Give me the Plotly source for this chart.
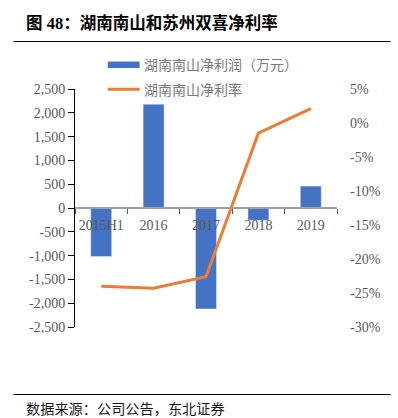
import plotly.graph_objects as go

categories = ["2015H1", "2016", "2017", "2018", "2019"]
profit = [-1020, 2180, -2120, -260, 460]          # 湖南南山净利润（万元）
margin = [-24.0, -24.3, -22.6, -1.5, 2.1]          # 湖南南山净利率 (%)
left_ticks = [-2500, -2000, -1500, -1000, -500, 0, 500, 1000, 1500, 2000, 2500]
left_labels = ["-2,500", "-2,000", "-1,500", "-1,000", "-500", "0",
               "500", "1,000", "1,500", "2,000", "2,500"]
right_ticks = [-30, -25, -20, -15, -10, -5, 0, 5]
right_labels = ["-30%", "-25%", "-20%", "-15%", "-10%", "-5%", "0%", "5%"]

title_text = "图 48：湖南南山和苏州双喜净利率"
source_text = "数据来源：公司公告，东北证券"
legend_names = ["湖南南山净利润（万元）", "湖南南山净利率"]

BLUE = "#4472C4"
ORANGE = "#ED7D31"
GRAY_TXT = "#595959"
LEG_TXT = "#7a7a7a"
SERIF = "Liberation Serif, Times New Roman, Noto Sans CJK SC, serif"
CJK = "Noto Sans CJK SC, sans-serif"

W, H = 398, 418
L, R, T, B = 74.7, 60.7, 89, 91

fig = go.Figure()
fig.add_trace(go.Bar(x=categories, y=profit, marker_color=BLUE, width=0.4,
                     name=legend_names[0], showlegend=False, yaxis="y"))
fig.add_trace(go.Scatter(x=categories, y=margin, mode="lines",
                         line=dict(color=ORANGE, width=3), name=legend_names[1],
                         showlegend=False, yaxis="y2"))

fig.update_layout(
    width=W, height=H,
    margin=dict(l=L, r=R, t=T, b=B, pad=0),
    paper_bgcolor="white", plot_bgcolor="white",
    showlegend=False,
    xaxis=dict(
        type="category", range=[-0.5, 4.5],
        anchor="free", position=0.5,
        showline=True, linecolor="#A0A0A0", linewidth=1.5,
        ticks="outside", ticklen=5, tickcolor="#595959", tickwidth=1,
        tickson="boundaries", tickangle=0, ticklabelstandoff=4,
        tickfont=dict(family=SERIF, size=14, color=GRAY_TXT),
        showgrid=False, zeroline=False, layer="above traces",
    ),
    yaxis=dict(
        range=[-2500, 2500], tickmode="array", tickvals=left_ticks, ticktext=left_labels,
        showline=True, linecolor="#000000", linewidth=1,
        ticks="outside", ticklen=6, tickcolor="#000000",
        tickfont=dict(family=SERIF, size=14, color=GRAY_TXT),
        showgrid=False, zeroline=False,
    ),
    yaxis2=dict(
        range=[-30, 5], tickmode="array", tickvals=right_ticks, ticktext=right_labels,
        overlaying="y", side="right",
        showline=False, ticks="", ticklabelstandoff=12,
        tickfont=dict(family=SERIF, size=14, color=GRAY_TXT),
        showgrid=False, zeroline=False,
    ),
)

def pxx(x):
    return (x - L) / (W - L - R)

def pxy(y):
    return (H - B - y) / (H - T - B)

shapes = [
    dict(type="line", xref="paper", yref="paper",
         x0=pxx(13), x1=pxx(391), y0=pxy(41.5), y1=pxy(41.5),
         line=dict(color="#000000", width=1.2)),
    dict(type="line", xref="paper", yref="paper",
         x0=pxx(13), x1=pxx(391), y0=pxy(394.5), y1=pxy(394.5),
         line=dict(color="#000000", width=1.2)),
    # legend symbols
    dict(type="rect", xref="paper", yref="paper",
         x0=pxx(107.5), x1=pxx(139.5), y0=pxy(68), y1=pxy(61.5),
         fillcolor=BLUE, line=dict(width=0)),
    dict(type="line", xref="paper", yref="paper",
         x0=pxx(107.5), x1=pxx(139.5), y0=pxy(89.3), y1=pxy(89.3),
         line=dict(color=ORANGE, width=3)),
]

annotations = [
    dict(text="<b>" + title_text + "</b>", x=pxx(24), y=pxy(23), xref="paper", yref="paper",
         xanchor="left", yanchor="middle", showarrow=False,
         font=dict(family="Liberation Serif, Noto Sans CJK SC", size=16.5, color="#000000")),
    dict(text=source_text, x=pxx(24), y=pxy(408), xref="paper", yref="paper",
         xanchor="left", yanchor="middle", showarrow=False,
         font=dict(family=CJK, size=14.2, color="#1a1a1a")),
    dict(text=legend_names[0], x=pxx(142), y=pxy(64), xref="paper", yref="paper",
         xanchor="left", yanchor="middle", showarrow=False,
         font=dict(family=CJK, size=14, color=LEG_TXT)),
    dict(text=legend_names[1], x=pxx(142), y=pxy(89), xref="paper", yref="paper",
         xanchor="left", yanchor="middle", showarrow=False,
         font=dict(family=CJK, size=14, color=LEG_TXT)),
]
fig.update_layout(shapes=shapes, annotations=annotations)

fig.write_html("out.html",
               config={"displayModeBar": False},
               post_script="document.body.style.margin='0';document.body.style.padding='0';"
                           "document.documentElement.style.overflow='hidden';")
